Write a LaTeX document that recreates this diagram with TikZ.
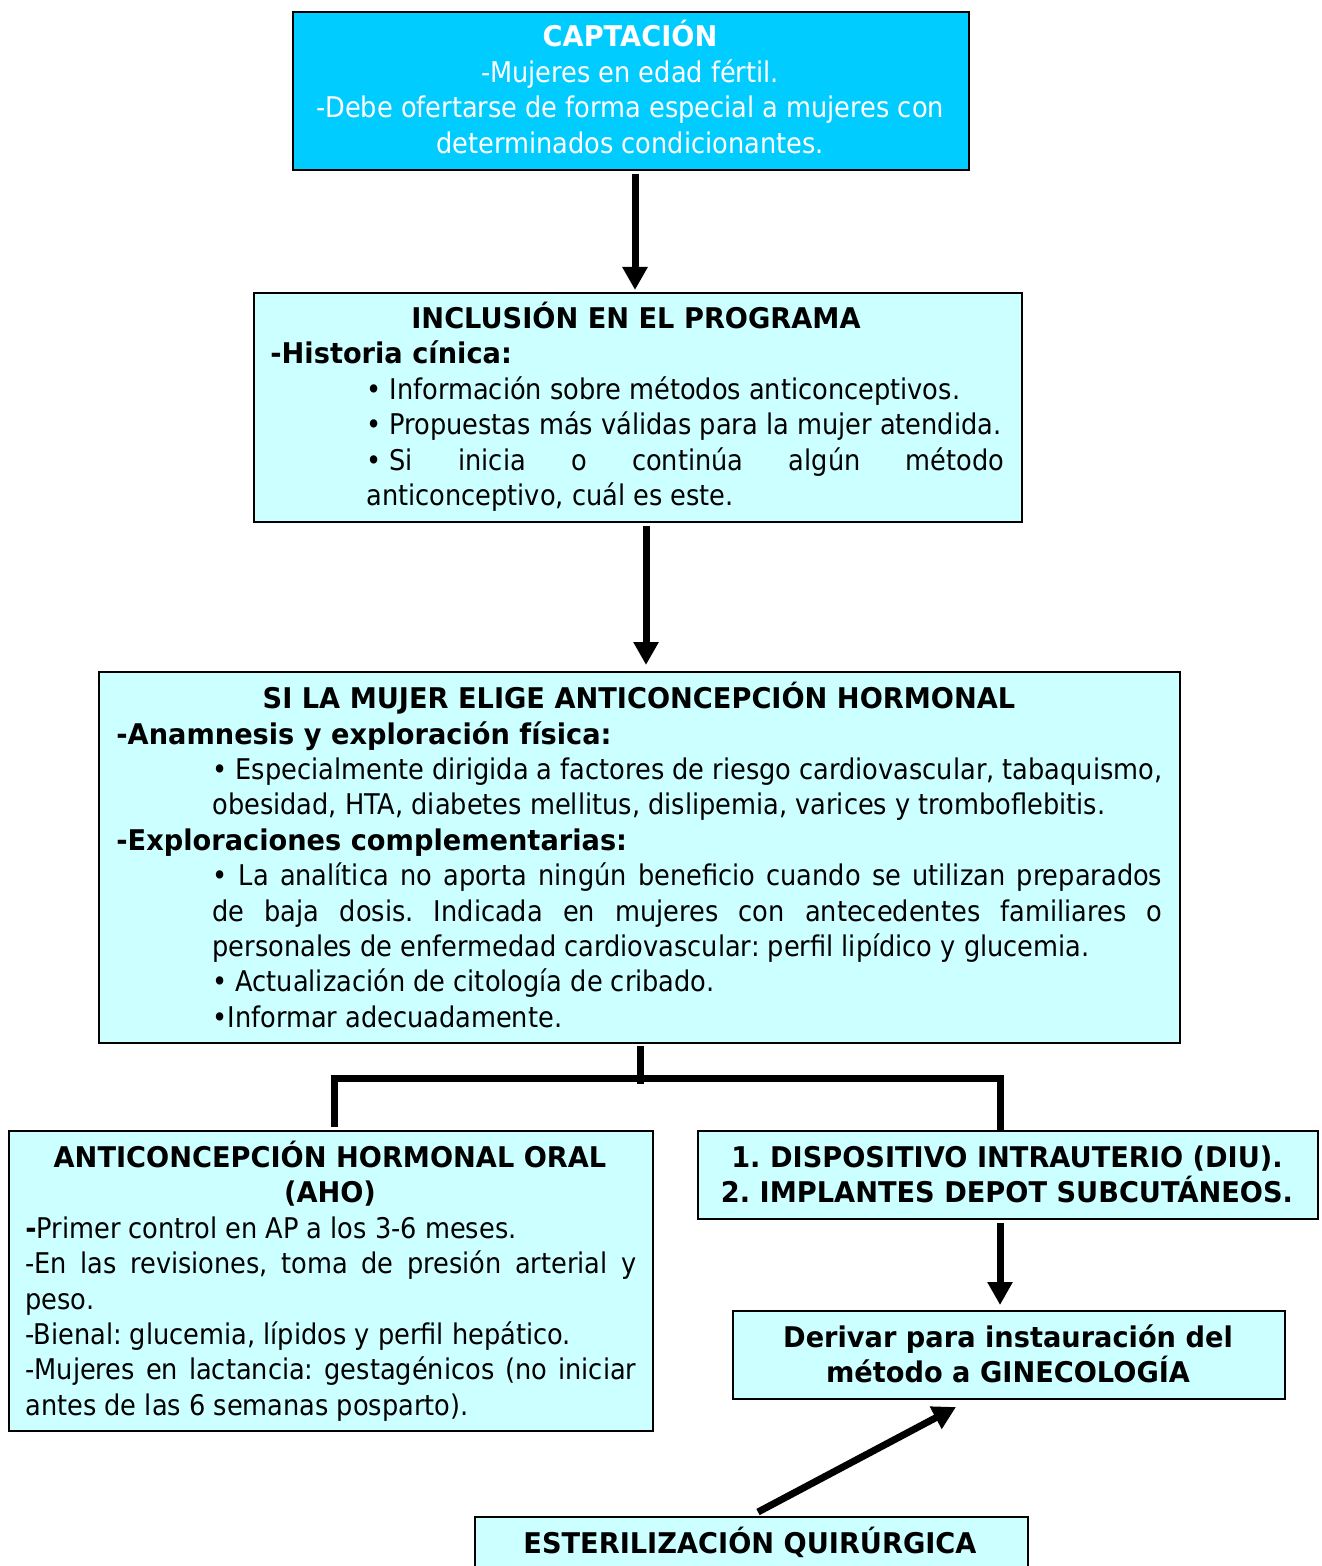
\documentclass[tikz,border=0pt]{standalone}
\usepackage{fontspec}
\setmainfont{DejaVu Sans Condensed}[BoldFont={DejaVu Sans Bold},BoldFeatures={FakeStretch=0.955}]
\usetikzlibrary{arrows.meta,calc}
\definecolor{deepcyan}{HTML}{00CCFF}
\definecolor{lightcyan}{HTML}{CCFFFF}
\frenchspacing
\begin{document}
\begin{tikzpicture}[x=0.5pt,y=-0.5pt,
  box/.style={draw=black,line width=1pt,fill=lightcyan,inner sep=0pt,anchor=north west},
  tl/.style={inner sep=0pt,anchor=base west,font=\fontsize{14.25}{17.6}\selectfont},
  tc/.style={inner sep=0pt,anchor=base,font=\fontsize{14.25}{17.6}\selectfont},
  tb/.style={inner sep=0pt,anchor=base,font=\fontsize{14.25}{17.6}\selectfont\bfseries},
  tbl/.style={inner sep=0pt,anchor=base west,font=\fontsize{14.25}{17.6}\selectfont\bfseries},
  arr/.style={line width=3.5pt,-{Triangle[width=12pt,length=11.5pt]}},
  tree/.style={line width=3.5pt}]
\clip (0,0) rectangle (1321,1566);
\fill[white] (0,0) rectangle (1321,1566);
% boxes
\node[box,fill=deepcyan,minimum width=338pt,minimum height=79pt] (b1) at (292,11) {};
\node[box,minimum width=384pt,minimum height=114.5pt] (b2) at (253,292) {};
\node[box,minimum width=540.5pt,minimum height=185.5pt] (b3) at (98,671) {};
\node[box,minimum width=322pt,minimum height=150pt] (b4) at (8,1130) {};
\node[box,minimum width=310pt,minimum height=44pt] (b5) at (697,1130) {};
\node[box,minimum width=276pt,minimum height=44pt] (b6) at (732,1310) {};
\node[box,minimum width=276.5pt,minimum height=40pt] (b7) at (474,1516) {};
% box 1
\node[tb,text=white] (t1a) at (630,47) {CAPTACIÓN};
\node[tc,text=white] (t1b) at (630,83) {-Mujeres en edad fértil.};
\node[tc,text=white] (t1c) at (630,118) {-Debe ofertarse de forma especial a mujeres con};
\node[tc,text=white] (t1d) at (630,154) {determinados condicionantes.};
% box 2
\node[tb] (t2a) at (636,329) {INCLUSIÓN EN EL PROGRAMA};
\node[tbl] (t2b) at (270,364) {-Historia cínica:};
\node[tl] (t2c) at (366,400) {• Información sobre métodos anticonceptivos.};
\node[tl] (t2d) at (366,435) {• Propuestas más válidas para la mujer atendida.};
\node[tl] (t2e) at (366,471) {\makebox[319pt][s]{\hbox{• Si} inicia o continúa algún método}};
\node[tl] (t2f) at (366,506) {anticonceptivo, cuál es este.};
% box 3
\node[tb] (t3a) at (639,708) {SI LA MUJER ELIGE ANTICONCEPCIÓN HORMONAL};
\node[tbl] (t3b) at (116,744) {-Anamnesis y exploración física:};
\node[tl] (t3c) at (212,779) {\makebox[475pt][s]{• Especialmente dirigida a factores de riesgo cardiovascular, tabaquismo,}};
\node[tl] (t3d) at (212,814) {obesidad, HTA, diabetes mellitus, dislipemia, varices y tromboflebitis.};
\node[tbl] (t3e) at (116,850) {-Exploraciones complementarias:};
\node[tl] (t3f) at (212,885) {\makebox[475pt][s]{• La analítica no aporta ningún beneficio cuando se utilizan preparados}};
\node[tl] (t3g) at (212,921) {\makebox[475pt][s]{de baja dosis. Indicada en mujeres con antecedentes familiares o}};
\node[tl] (t3h) at (212,956) {personales de enfermedad cardiovascular: perfil lipídico y glucemia.};
\node[tl] (t3i) at (212,991) {• Actualización de citología de cribado.};
\node[tl] (t3j) at (212,1027) {•Informar adecuadamente.};
% box 4
\node[tb] (t4a) at (330,1167) {ANTICONCEPCIÓN HORMONAL ORAL};
\node[tb] (t4b) at (330,1202) {(AHO)};
\node[tl] (t4c) at (25,1238) {{\bfseries -}Primer control en AP a los 3-6 meses.};
\node[tl] (t4d) at (25,1273) {\makebox[305.5pt][s]{-En las revisiones, toma de presión arterial y}};
\node[tl] (t4e) at (25,1309) {peso.};
\node[tl] (t4f) at (25,1344) {-Bienal: glucemia, lípidos y perfil hepático.};
\node[tl] (t4g) at (25,1379) {\makebox[305.5pt][s]{-Mujeres en lactancia: gestagénicos (no iniciar}};
\node[tl] (t4h) at (25,1415) {antes de las 6 semanas posparto).};
% box 5
\node[tb] (t5a) at (1007,1167) {1. DISPOSITIVO INTRAUTERIO (DIU).};
\node[tb] (t5b) at (1007,1202) {2. IMPLANTES DEPOT SUBCUTÁNEOS.};
% box 6
\node[tb] (t6a) at (1008,1347) {Derivar para instauración del};
\node[tb] (t6b) at (1008,1382) {método a GINECOLOGÍA};
% box 7
\node[tb] (t7a) at (750,1553) {ESTERILIZACIÓN QUIRÚRGICA};
% connectors
\draw[arr] ($(b1.south)+(4,3)$) -- ($(b2.north)+(-3,-2)$);
\draw[arr] ($(b2.south)+(8,3)$) -- ($(b3.north)+(6.5,-6)$);
\draw[tree] ($(b3.south)+(0.5,2)$) -- ++(0,38);
\draw[tree] ($(b4.north)+(3,-3)$) -- ++(0,-49) -| ($(b5.north)+(-8,0)$);
\draw[arr] ($(b5.south)+(-8,3)$) -- ($(b6.north)+(-9,-5)$);
\draw[arr] ($(b7.north)+(6.5,-4)$) -- ($(b6.south)+(-53,7)$);
\end{tikzpicture}
\end{document}
